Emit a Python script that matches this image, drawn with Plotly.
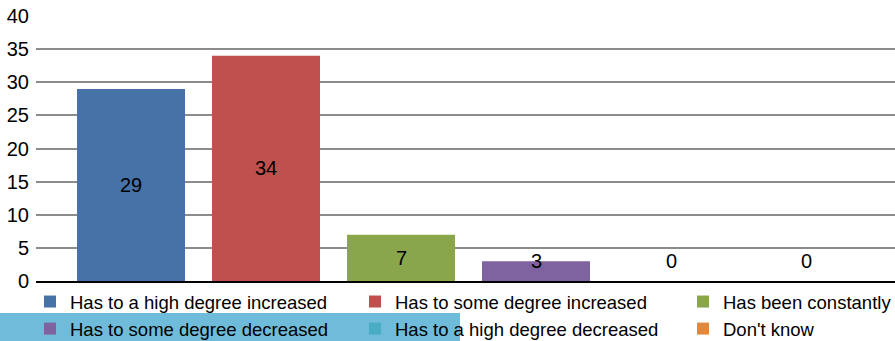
import plotly.graph_objects as go

# Survey answers and counts
categories = [
    "Has to a high degree increased",
    "Has to some degree increased",
    "Has been constantly",
    "Has to some degree decreased",
    "Has to a high degree decreased",
    "Don't know",
]
counts = [29, 34, 7, 3, 0, 0]
colors = ["#4672A7", "#BF504D", "#8AA64B", "#7F63A1", "#4BACC6", "#E0883E"]
y_ticks = [0, 5, 10, 15, 20, 25, 30, 35, 40]

FONT = "Liberation Sans, Arial, Helvetica, sans-serif"
W, H = 895, 341
ML, MR, MT, MB = 36, 0, 16, 60
plot_w = W - ML - MR
plot_h = H - MT - MB

# legend laid out as three columns, two rows each
legend_ids = ["legend", "legend2", "legend3"]
col_left = [30, 355, 683]

fig = go.Figure()
for i, (name, v, c) in enumerate(zip(categories, counts, colors)):
    fig.add_trace(go.Bar(
        x=[i], y=[v], name=name, marker=dict(color=c, line=dict(width=0)),
        width=0.8, legend=legend_ids[i % 3],
        hoverinfo="skip",
    ))
    # value label near the middle of the bar, kept above the baseline for short bars
    fig.add_annotation(
        x=i, y=max(v / 2, 3), text=str(v), showarrow=False,
        font=dict(family=FONT, size=20, color="#000000"),
        xref="x", yref="y",
    )

# highlight strip behind the second legend row
fig.add_shape(
    type="rect", xref="paper", yref="paper",
    x0=-ML / plot_w, x1=(460 - ML) / plot_w,
    y0=-(H - 281) / plot_h, y1=-(313 - 281) / plot_h,
    fillcolor="#6FBCDA", line=dict(width=0), layer="below",
)

legend_common = dict(
    orientation="v", xanchor="left", yanchor="top",
    xref="container", yref="container",
    font=dict(family=FONT, size=18.5, color="#000000"),
    itemwidth=30, tracegroupgap=0,
    bgcolor="rgba(0,0,0,0)", borderwidth=0,
    traceorder="normal", itemclick=False, itemdoubleclick=False,
)
legends = {
    lid: dict(x=col_left[k] / W, y=1 - 283 / H, **legend_common)
    for k, lid in enumerate(legend_ids)
}

fig.update_layout(
    width=W, height=H,
    margin=dict(l=ML, r=MR, t=MT, b=MB, autoexpand=False),
    paper_bgcolor="white", plot_bgcolor="white",
    barmode="overlay",
    showlegend=True,
    font=dict(family=FONT, size=19, color="#000000"),
    xaxis=dict(
        range=[-95 / 135, (W - 131) / 135],
        showticklabels=False, showgrid=False, zeroline=False,
        showline=True, linecolor="#000000", linewidth=2,
        fixedrange=True,
    ),
    yaxis=dict(
        range=[0, 40], tickvals=y_ticks, ticktext=[str(t) for t in y_ticks],
        showgrid=True, gridcolor="#8C8C8C", gridwidth=2,
        zeroline=False, showline=False, ticks="", ticklabelstandoff=6,
        tickfont=dict(family=FONT, size=20, color="#000000"),
        fixedrange=True,
    ),
    **legends,
)

fig.write_html("out.html")
